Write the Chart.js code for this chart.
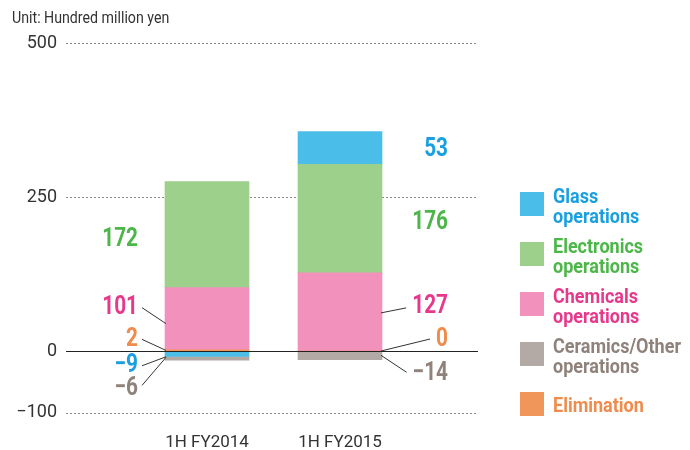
<!DOCTYPE html>
<html>
<head>
<meta charset="utf-8">
<script src="https://cdn.jsdelivr.net/npm/chart.js@4"></script>
<style>
  html, body { margin: 0; background: #fff; }
</style>
</head>
<body>
<canvas id="chart" width="690" height="450"></canvas>
<script>
// data (hundred million yen)
var categories = ['1H FY2014', '1H FY2015'];
var elimination = [2, 0];
var chemicals = [101, 127];
var electronics = [172, 176];
var glass = [-9, 53];
var ceramics = [-6, -14];
var yTicks = [-100, 0, 250, 500];

var FONT = 'Roboto, "Liberation Sans", sans-serif';

// bar fill / label text colours, stacking order bottom -> top
var series = [
  { name: 'Elimination', lines: ['Elimination'], values: elimination, fill: '#f0965b', text: '#ef8b4c' },
  { name: 'Chemicals operations', lines: ['Chemicals', 'operations'], values: chemicals, fill: '#f291bc', text: '#e8388b' },
  { name: 'Electronics operations', lines: ['Electronics', 'operations'], values: electronics, fill: '#9dd08a', text: '#4cb748' },
  { name: 'Glass operations', lines: ['Glass', 'operations'], values: glass, fill: '#4bbde9', text: '#1a9fe0' },
  { name: 'Ceramics/Other operations', lines: ['Ceramics/Other', 'operations'], values: ceramics, fill: '#b3aaa5', text: '#8f827b' }
];
var legendOrder = [3, 2, 1, 4, 0];

// value callouts: ds = series index, cat = category, dy = offset from segment middle,
// lead = end of the leader line on the bar edge (offset from segment middle)
var callouts = [
  { ds: 2, cat: 0, dy: 5 },
  { ds: 1, cat: 0, dy: -11, lead: 5 },
  { ds: 0, cat: 0, dy: -11, lead: 0 },
  { ds: 3, cat: 0, dy: 12, lead: 3 },
  { ds: 4, cat: 0, dy: 30, lead: -1, sy: -3 },
  { ds: 3, cat: 1, dy: 1 },
  { ds: 2, cat: 1, dy: 4 },
  { ds: 1, cat: 1, dy: -5, lead: 1, sy: 1 },
  { ds: 0, cat: 1, dy: -12, lead: 0 },
  { ds: 4, cat: 1, dy: 18, lead: 0, sy: -1 }
];

var GRID_LEFT = 66, GRID_RIGHT = 478;

function fmt(v) {
  return v < 0 ? '\u2212' + Math.abs(v) : String(v);
}

// text squeezed horizontally to look like the condensed face of the original
function squeezed(ctx, txt, x, y, sx) {
  ctx.save();
  ctx.translate(x, y);
  ctx.scale(sx, 1);
  ctx.fillText(txt, 0, 0);
  ctx.restore();
  return ctx.measureText(txt).width * sx;
}

var extras = {
  id: 'extras',
  beforeDatasetsDraw: function(chart) {
    var ctx = chart.ctx;
    var y = chart.scales.y;
    ctx.save();
    ctx.strokeStyle = '#888';
    ctx.lineWidth = 1;
    ctx.setLineDash([2, 2]);
    yTicks.forEach(function(v) {
      if (v === 0) return;
      var py = Math.round(y.getPixelForValue(v)) + 0.5;
      ctx.beginPath();
      ctx.moveTo(GRID_LEFT, py);
      ctx.lineTo(GRID_RIGHT, py);
      ctx.stroke();
    });
    ctx.restore();
  },
  afterDatasetsDraw: function(chart) {
    var ctx = chart.ctx;
    var y = chart.scales.y;
    ctx.save();

    // zero line
    var y0 = Math.round(y.getPixelForValue(0)) + 0.5;
    ctx.strokeStyle = '#222';
    ctx.lineWidth = 1.2;
    ctx.beginPath();
    ctx.moveTo(GRID_LEFT, y0);
    ctx.lineTo(GRID_RIGHT, y0);
    ctx.stroke();

    // value labels
    ctx.font = 'bold 26px ' + FONT;
    ctx.textBaseline = 'middle';
    ctx.textAlign = 'right';
    callouts.forEach(function(c) {
      var bar = chart.getDatasetMeta(c.ds).data[c.cat];
      var mid = (bar.y + bar.base) / 2;
      var left = bar.x - bar.width / 2;
      var right = bar.x + bar.width / 2;
      var tx = c.cat === 0 ? left - 27 : right + 66;
      var ty = mid + c.dy;
      var txt = fmt(series[c.ds].values[c.cat]);
      ctx.fillStyle = series[c.ds].text;
      var w = squeezed(ctx, txt, tx, ty, 0.8);
      if (c.lead !== undefined) {
        var sy = ty + (c.sy || 0);
        ctx.strokeStyle = '#333';
        ctx.lineWidth = 1;
        ctx.beginPath();
        if (c.cat === 0) {
          ctx.moveTo(tx + 4, sy);
          ctx.lineTo(left + 1, mid + c.lead);
        } else {
          ctx.moveTo(right - 1, mid + c.lead);
          ctx.lineTo(tx - w - 6, sy);
        }
        ctx.stroke();
      }
    });

    // legend
    ctx.textAlign = 'left';
    ctx.textBaseline = 'alphabetic';
    ctx.font = 'bold 20px ' + FONT;
    var top = 192;
    legendOrder.forEach(function(i) {
      var s = series[i];
      ctx.fillStyle = s.fill;
      ctx.fillRect(520, top, 24, 24);
      ctx.fillStyle = s.text;
      if (s.lines.length === 2) {
        squeezed(ctx, s.lines[0], 553, top + 11, 0.9);
        squeezed(ctx, s.lines[1], 553, top + 31, 0.9);
      } else {
        squeezed(ctx, s.lines[0], 553, top + 20, 0.9);
      }
      top += 50;
    });

    // unit
    ctx.font = '16.5px ' + FONT;
    ctx.fillStyle = '#333';
    ctx.textBaseline = 'middle';
    squeezed(ctx, 'Unit: Hundred million yen', 12, 19, 0.86);
    ctx.restore();
  }
};

new Chart(document.getElementById('chart'), {
  type: 'bar',
  data: {
    labels: categories,
    datasets: series.map(function(s) {
      return {
        label: s.name,
        data: s.values,
        backgroundColor: s.fill,
        borderWidth: 0,
        barThickness: 84
      };
    })
  },
  options: {
    responsive: false,
    animation: false,
    devicePixelRatio: 1,
    layout: { padding: { top: 43, right: 283.5, left: 0, bottom: 0 } },
    plugins: { legend: { display: false }, tooltip: { enabled: false } },
    scales: {
      x: {
        stacked: true,
        grid: { display: false, drawTicks: false },
        border: { display: false },
        afterFit: function(s) {
          s.height = 37.4;
          s.paddingLeft = 0;
          s.paddingRight = 0;
        },
        ticks: {
          padding: 20,
          color: '#333',
          font: { family: FONT, size: 17 }
        }
      },
      y: {
        stacked: true,
        min: -100,
        max: 500,
        afterBuildTicks: function(s) {
          s.ticks = yTicks.map(function(v) { return { value: v }; });
        },
        afterFit: function(s) {
          s.width = 140.5;
          s.paddingTop = 0;
          s.paddingBottom = 0;
        },
        grid: { display: false, drawTicks: false },
        border: { display: false },
        ticks: {
          padding: 83.5,
          color: '#333',
          font: { family: FONT, size: 18 },
          callback: function(v) { return fmt(v); }
        }
      }
    }
  },
  plugins: [extras]
});
</script>
</body>
</html>
